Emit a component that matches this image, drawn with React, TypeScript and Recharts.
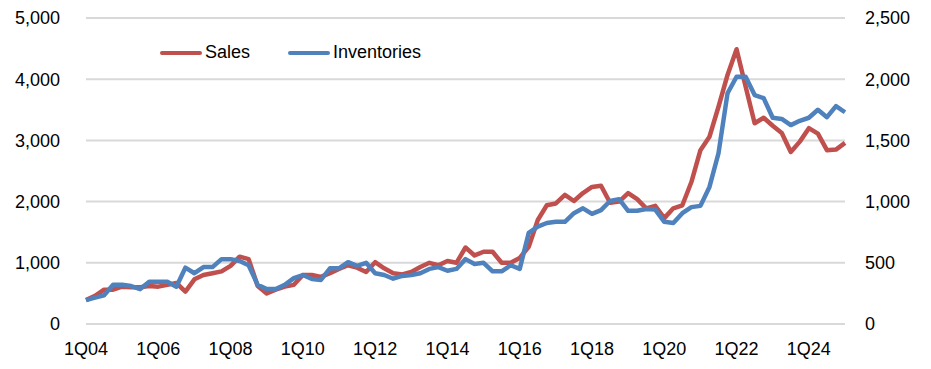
import { LineChart, Line, XAxis, YAxis, CartesianGrid } from "recharts";

// quarterly, 1Q04 .. 1Q25
const firstYear = 4;
const quarterCount = 85;
const quarters = Array.from({ length: quarterCount }, (_, i) =>
  `${(i % 4) + 1}Q${String(firstYear + Math.floor(i / 4)).padStart(2, "0")}`
);

const xTicks = ["1Q04", "1Q06", "1Q08", "1Q10", "1Q12", "1Q14", "1Q16", "1Q18", "1Q20", "1Q22", "1Q24"];
const leftTicks = [0, 1000, 2000, 3000, 4000, 5000];
const rightTicks = [0, 500, 1000, 1500, 2000, 2500];

// left axis
const sales = [
  390, 460, 560, 560, 610, 600, 600, 620, 610, 640,
  670, 530, 730, 800, 830, 860, 950, 1100, 1060, 620,
  500, 560, 610, 640, 800, 800, 770, 830, 900, 960,
  920, 850, 1010, 910, 830, 810, 850, 930, 1000, 960,
  1030, 1000, 1250, 1120, 1180, 1180, 1000, 1000, 1080, 1260,
  1700, 1940, 1970, 2110, 2010, 2140, 2240, 2260, 1980, 2000,
  2140, 2040, 1890, 1930, 1730, 1890, 1940, 2320, 2840, 3060,
  3550, 4070, 4490, 3880, 3280, 3370, 3240, 3120, 2810, 2980,
  3200, 3110, 2840, 2850, 2960,
];

// right axis
const inventories = [
  195, 215, 235, 320, 320, 310, 285, 345, 345, 345,
  305, 460, 415, 465, 465, 530, 530, 515, 480, 320,
  285, 285, 320, 375, 400, 368, 360, 455, 455, 505,
  475, 500, 415, 400, 370, 393, 400, 415, 450, 465,
  435, 450, 530, 490, 500, 430, 430, 480, 450, 745,
  795, 825, 835, 835, 905, 945, 900, 930, 1005, 1020,
  925, 925, 940, 935, 835, 825, 905, 955, 965, 1120,
  1395, 1885, 2020, 2020, 1870, 1845, 1685, 1675, 1625, 1660,
  1685, 1750, 1690, 1780, 1730,
];

const RED = "#C0504D";
const BLUE = "#4F81BD";
const FONT = "'Liberation Sans', Arial, sans-serif";

const data = quarters.map((q, i) => ({ q, sales: sales[i], inventories: inventories[i] }));

const fmt = (v: number) => v.toLocaleString("en-US");
const tickStyle = { fill: "#000", fontSize: 18, fontFamily: FONT };

const legendItems = [
  { label: "Sales", color: RED, left: 160 },
  { label: "Inventories", color: BLUE, left: 288 },
];

export default function App() {
  return (
    <div style={{ position: "absolute", left: 0, top: 0, width: 931, height: 369, background: "#fff" }}>
      <LineChart width={931} height={369} data={data} margin={{ top: 18, right: 0, bottom: 0, left: 0 }}>
        <CartesianGrid vertical={false} stroke="#d9d9d9" strokeWidth={2} yAxisId="left" />
        <XAxis
          dataKey="q"
          ticks={xTicks}
          interval={0}
          axisLine={false}
          tickLine={false}
          tickSize={0}
          tickMargin={18}
          height={45}
          tick={tickStyle}
        />
        <YAxis
          yAxisId="left"
          domain={[0, 5000]}
          ticks={leftTicks}
          tickFormatter={fmt}
          axisLine={false}
          tickLine={false}
          tickSize={0}
          tickMargin={26}
          width={86}
          tick={tickStyle}
        />
        <YAxis
          yAxisId="right"
          orientation="right"
          domain={[0, 2500]}
          ticks={rightTicks}
          tickFormatter={fmt}
          axisLine={false}
          tickLine={false}
          tickSize={0}
          tickMargin={20}
          width={86}
          tick={{ ...tickStyle, textAnchor: "start" }}
        />
        <Line yAxisId="left" type="linear" dataKey="sales" stroke={RED} strokeWidth={4.5}
          strokeLinejoin="round" dot={false} isAnimationActive={false} />
        <Line yAxisId="right" type="linear" dataKey="inventories" stroke={BLUE} strokeWidth={4.5}
          strokeLinejoin="round" dot={false} isAnimationActive={false} />
      </LineChart>
      {legendItems.map((it) => (
        <div key={it.label} style={{ position: "absolute", top: 42, left: it.left, display: "flex", alignItems: "center", fontFamily: FONT, fontSize: 18, color: "#000" }}>
          <span style={{ display: "inline-block", width: 42, height: 4, borderRadius: 2, background: it.color, marginRight: 3 }} />
          <span>{it.label}</span>
        </div>
      ))}
    </div>
  );
}
